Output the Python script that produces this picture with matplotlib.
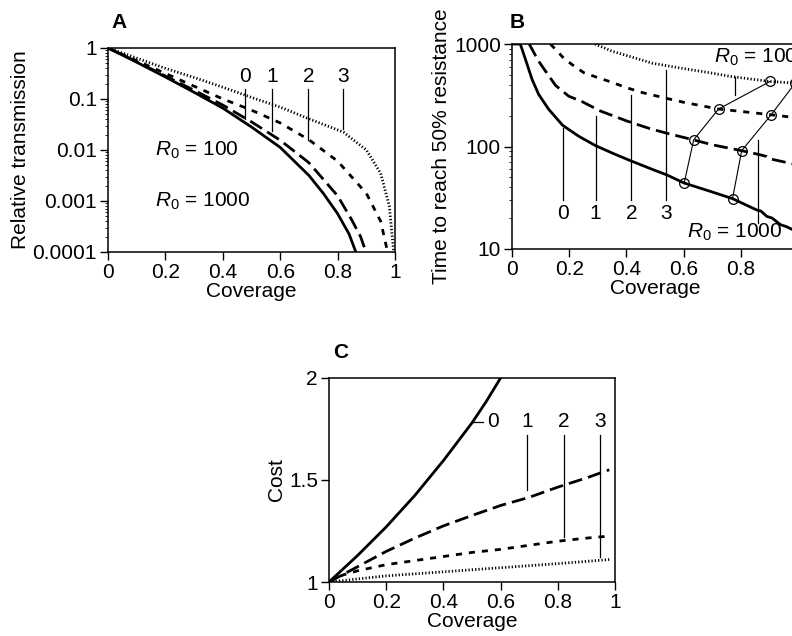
import numpy as np
import matplotlib
matplotlib.use("Agg")
import matplotlib.pyplot as plt
from matplotlib.ticker import FixedLocator, FixedFormatter, LogLocator, NullFormatter

plt.rcParams['font.family'] = ['Liberation Sans', 'DejaVu Sans']
plt.rcParams['font.size'] = 15
plt.rcParams['mathtext.fontset'] = 'custom'
plt.rcParams['mathtext.it'] = 'Liberation Sans:italic'
plt.rcParams['mathtext.rm'] = 'Liberation Sans'

# --- panel A: relative transmission (log10 values)
a_x0 = [0, 0.1, 0.2, 0.3, 0.4, 0.5, 0.6, 0.7, 0.75, 0.8, 0.84, 0.87]
a_y0 = [0, -0.28, -0.57, -0.87, -1.18, -1.55, -1.95, -2.5, -2.85, -3.25, -3.65, -4.1]
a_x1 = [0, 0.1, 0.2, 0.3, 0.4, 0.5, 0.6, 0.7, 0.8, 0.85, 0.88, 0.905]
a_y1 = [0, -0.27, -0.55, -0.83, -1.12, -1.45, -1.81, -2.25, -2.9, -3.38, -3.7, -4.1]
a_x2 = [0, 0.1, 0.2, 0.3, 0.4, 0.5, 0.6, 0.7, 0.8, 0.9, 0.95, 0.978]
a_y2 = [0, -0.25, -0.5, -0.75, -1.0, -1.22, -1.47, -1.8, -2.22, -2.85, -3.4, -4.1]
a_x3 = [0, 0.1, 0.2, 0.3, 0.4, 0.5, 0.6, 0.7, 0.82, 0.9, 0.95, 0.98, 0.997]
a_y3 = [0, -0.2, -0.4, -0.58, -0.77, -0.97, -1.16, -1.39, -1.65, -2.0, -2.46, -3.1, -4.1]
a_lab_x = [0.477, 0.573, 0.698, 0.82]
a_lab_bot = [-1.39, -1.63, -1.81, -1.58]

# --- panel B: time to reach 50% resistance
b_x0 = [0.0, 0.029, 0.047, 0.07, 0.093, 0.128, 0.177, 0.233, 0.292, 0.36, 0.418, 0.496,
        0.54, 0.602, 0.7, 0.771, 0.856, 0.87, 0.891, 0.91, 0.938, 0.96, 0.98, 1.0]
b_y0 = [1000, 1000, 708, 452, 323, 231, 161, 126, 102, 84, 72, 59,
        53, 44, 36, 31, 24, 23.5, 20.8, 20, 17.3, 16.5, 15.5, 14.5]
b_x1 = [0.06, 0.072, 0.09, 0.111, 0.152, 0.198, 0.245, 0.309, 0.4, 0.48, 0.54, 0.635,
        0.7, 0.803, 0.86, 0.89, 0.9, 1.0]
b_y1 = [1000, 870, 700, 575, 395, 310, 274, 222, 178, 150, 135, 116,
        104, 91, 84, 80, 76, 66]
b_x2 = [0.134, 0.16, 0.181, 0.21, 0.251, 0.3, 0.344, 0.4, 0.457, 0.54, 0.6, 0.722,
        0.8, 0.906, 1.0]
b_y2 = [1000, 840, 725, 630, 525, 470, 428, 375, 335, 295, 270, 232,
        220, 204, 190]
b_x3 = [0.29, 0.35, 0.413, 0.49, 0.588, 0.7, 0.763, 0.902, 0.98, 1.0]
b_y3 = [1000, 850, 755, 650, 583, 520, 483, 431, 417, 410]
b_chain1_x = [0.602, 0.635, 0.722, 0.902]
b_chain1_y = [44, 116, 232, 431]
b_chain2_x = [0.771, 0.803, 0.906, 0.99]
b_chain2_y = [31, 91, 204, 415]
b_lab_x = [0.177, 0.292, 0.417, 0.539]
b_lab_top = [152, 197, 316, 562]
b_extra_x = [0.78, 0.86]
b_extra_lo = [320, 18]
b_extra_hi = [480, 116]

# --- panel C: cost
c_x0 = [0, 0.1, 0.2, 0.3, 0.4, 0.5, 0.55, 0.6]
c_y0 = [1, 1.13, 1.27, 1.424, 1.595, 1.78, 1.885, 2.0]
c_x1 = [0, 0.1, 0.2, 0.3, 0.4, 0.5, 0.6, 0.7, 0.8, 0.9, 0.98]
c_y1 = [1, 1.075, 1.15, 1.215, 1.275, 1.326, 1.375, 1.415, 1.465, 1.51, 1.55]
c_x2 = [0, 0.05, 0.1, 0.2, 0.3, 0.4, 0.5, 0.6, 0.7, 0.8, 0.9, 0.98]
c_y2 = [1, 1.035, 1.055, 1.085, 1.105, 1.125, 1.145, 1.16, 1.18, 1.2, 1.215, 1.225]
c_x3 = [0, 0.2, 0.4, 0.6, 0.8, 0.98]
c_y3 = [1, 1.03, 1.05, 1.07, 1.09, 1.11]
c_lab_x = [0.574, 0.694, 0.821, 0.947]
c_lab_bot = [None, 1.45, 1.22, 1.125]

labels = ['0', '1', '2', '3']
styles = [dict(ls='-', lw=2.0),
          dict(ls=(0, (5, 2.2)), lw=2.0),
          dict(ls=(0, (2.2, 2.5)), lw=2.0),
          dict(ls=(0, (0.45, 0.75)), lw=2.0)]
xticks = [0, 0.2, 0.4, 0.6, 0.8, 1]
xticklabels = ['0', '0.2', '0.4', '0.6', '0.8', '1']

fig = plt.figure(figsize=(7.92, 6.36), dpi=100)


def style_axes(ax):
    for s in ax.spines.values():
        s.set_linewidth(1.1)
    ax.tick_params(which='major', direction='out', length=6, width=1.0, pad=2)
    ax.tick_params(which='minor', direction='out', length=2.5, width=0.6)
    ax.set_xlim(0, 1)
    ax.set_xticks(xticks)
    ax.set_xticklabels(xticklabels)
    ax.set_xlabel('Coverage', labelpad=0)


# Panel A
axA = fig.add_axes([0.1364, 0.6038, 0.3624, 0.3208])
for xs, ys, st in zip([a_x0, a_x1, a_x2, a_x3], [a_y0, a_y1, a_y2, a_y3], styles):
    axA.plot(xs, 10.0 ** np.array(ys), color='black', **st)
axA.set_yscale('log')
axA.set_ylim(1e-4, 1)
style_axes(axA)
axA.yaxis.set_major_locator(FixedLocator([1e-4, 1e-3, 1e-2, 1e-1, 1]))
axA.yaxis.set_major_formatter(FixedFormatter(['0.0001', '0.001', '0.01', '0.1', '1']))
axA.yaxis.set_minor_locator(LogLocator(base=10, subs=np.arange(2, 10)))
axA.yaxis.set_minor_formatter(NullFormatter())
axA.set_ylabel('Relative transmission', labelpad=2)
for x, yb, t in zip(a_lab_x, a_lab_bot, labels):
    axA.plot([x, x], [10 ** -0.8, 10 ** yb], color='black', lw=0.9)
    axA.text(x, 10 ** -0.55, t, ha='center', va='center')
axA.text(0.163, 0.01, '$R_0$ = 100', ha='left', va='center')
axA.text(0.163, 0.001, '$R_0$ = 1000', ha='left', va='center')
axA.text(0.013, 1.078, 'A', transform=axA.transAxes, fontweight='bold', fontsize=15,
         ha='left', va='bottom')

# Panel B
axB = fig.add_axes([0.6465, 0.6085, 0.3611, 0.3223])
for xs, ys, st in zip([b_x0, b_x1, b_x2, b_x3], [b_y0, b_y1, b_y2, b_y3], styles):
    axB.plot(xs, ys, color='black', **st)
for cx, cy in [(b_chain1_x, b_chain1_y), (b_chain2_x, b_chain2_y)]:
    axB.plot(cx, cy, color='black', lw=0.8, marker='o', ms=7, mfc='none', mew=0.9)
axB.set_yscale('log')
axB.set_ylim(10, 1000)
style_axes(axB)
axB.yaxis.set_major_locator(FixedLocator([10, 100, 1000]))
axB.yaxis.set_major_formatter(FixedFormatter(['10', '100', '1000']))
axB.yaxis.set_minor_locator(LogLocator(base=10, subs=np.arange(2, 10)))
axB.yaxis.set_minor_formatter(NullFormatter())
axB.set_ylabel('Time to reach 50% resistance', labelpad=2)
for x, yt, t in zip(b_lab_x, b_lab_top, labels):
    axB.plot([x, x], [30, yt], color='black', lw=0.9)
    axB.text(x, 22, t, ha='center', va='center')
for x, lo, hi in zip(b_extra_x, b_extra_lo, b_extra_hi):
    axB.plot([x, x], [lo, hi], color='black', lw=0.9)
axB.text(0.705, 740, '$R_0$ = 100', ha='left', va='center')
axB.text(0.613, 14.5, '$R_0$ = 1000', ha='left', va='center')
axB.text(-0.01, 1.058, 'B', transform=axB.transAxes, fontweight='bold', fontsize=15,
         ha='left', va='bottom')

# Panel C
axC = fig.add_axes([0.4154, 0.0849, 0.3611, 0.3208])
for xs, ys, st in zip([c_x0, c_x1, c_x2, c_x3], [c_y0, c_y1, c_y2, c_y3], styles):
    axC.plot(xs, ys, color='black', **st)
axC.set_ylim(1, 2)
style_axes(axC)
axC.set_yticks([1, 1.5, 2])
axC.set_yticklabels(['1', '1.5', '2'])
axC.set_ylabel('Cost', labelpad=2)
axC.plot([0.504, 0.537], [1.785, 1.785], color='black', lw=0.9)
for x, yb, t in zip(c_lab_x, c_lab_bot, labels):
    if yb is not None:
        axC.plot([x, x], [1.72, yb], color='black', lw=0.9)
    axC.text(x, 1.785, t, ha='center', va='center')
axC.text(0.013, 1.078, 'C', transform=axC.transAxes, fontweight='bold', fontsize=15,
         ha='left', va='bottom')

fig.savefig('out.png', dpi=100)
